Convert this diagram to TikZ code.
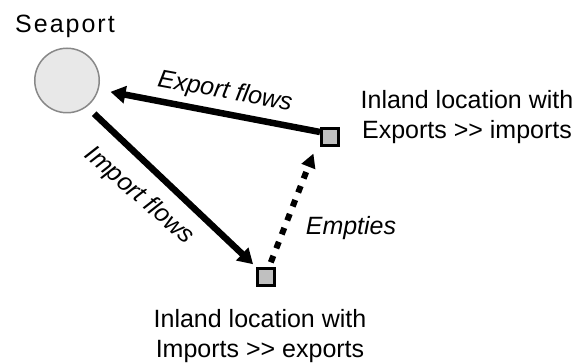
\documentclass[tikz,border=0pt]{standalone}
\usepackage{fontspec}
\setmainfont{Liberation Sans}
\usetikzlibrary{arrows.meta,calc}
\definecolor{portgray}{HTML}{E8E8E8}
\definecolor{portedge}{HTML}{888888}
\definecolor{sitegray}{HTML}{C0C0C0}

\begin{document}
\begin{tikzpicture}[x=1pt,y=1pt,
  lbl/.style={font=\fontsize{25}{30}\selectfont, inner sep=0pt, align=center},
  flowlbl/.style={font=\fontsize{25}{30}\selectfont\itshape, inner sep=0pt},
  site/.style={draw=black, line width=3pt, fill=sitegray, minimum size=17pt, inner sep=0pt},
  flow/.style={line width=6.5pt, -{Triangle[length=15pt,width=17pt]}},
  emptyflow/.style={line width=6pt, dash pattern=on 7pt off 8pt, -{Triangle[length=14pt,width=14pt]}}]
\useasboundingbox (0,0) rectangle (579,364);

\node[circle, draw=portedge, line width=1.5pt, fill=portgray, minimum size=64.5pt, inner sep=0pt] (port) at (67,283.5) {};
\node[lbl, anchor=base, font=\fontsize{25}{30}\selectfont\addfontfeature{LetterSpace=8}] (portlbl) at (65,331) {Seaport};

\node[site] (sqe) at (330,227) {};
\node[lbl, anchor=north] (lexp) at (467,274) {Inland location with\\Exports >{}> imports};

\node[site] (sqi) at (266,87) {};
\node[lbl, anchor=north] (limp) at (260,54.5) {Inland location with\\Imports >{}> exports};

\draw[flow, shorten >=12pt] ([yshift=5pt]sqe.west) -- (port.-16);
\node[flowlbl, rotate=-10.4] (lblexp) at (225,272) {Export flows};

\draw[flow, shorten <=10pt, shorten >=4pt] (port.-53) -- (sqi.north west);
\node[flowlbl, rotate=-41] (lblimp) at (139,168) {Import flows};

\draw[emptyflow, shorten <=5pt, shorten >=7pt] ([xshift=3pt]sqi.north) -- ([xshift=-4pt]sqe.south west);
\node[flowlbl] (lblemp) at (351,135.5) {Empties};
\end{tikzpicture}
\end{document}
